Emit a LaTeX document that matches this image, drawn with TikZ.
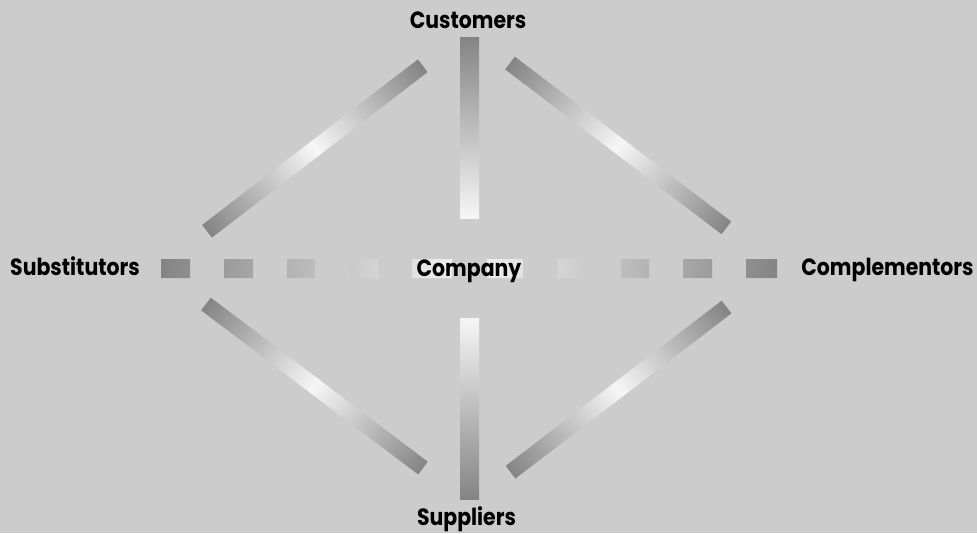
\documentclass[tikz,border=0pt]{standalone}
\usepackage{fontspec}
\setmainfont{Poppins}[UprightFont=* Bold,FakeStretch=0.87]
\begin{document}
\begin{tikzpicture}[x=1pt,y=-1pt,
  lbl/.style={inner sep=0pt,anchor=base,font=\fontsize{23.5}{23.5}\selectfont},
  barshade/.style={left color=bargray,right color=bargray,middle color=barwhite}]
\definecolor{bg}{HTML}{CCCCCC}
\definecolor{bargray}{HTML}{848484}
\definecolor{barwhite}{HTML}{F6F6F6}
\fill[bg] (0,0) rectangle (977,533);
\useasboundingbox (0,0) rectangle (977,533);
% vertical bars
\shade[top color=bargray,bottom color=barwhite] (460,37) rectangle (479,218);
\shade[top color=barwhite,bottom color=bargray] (460,318) rectangle (479,499);
% dashed horizontal bar
\begin{scope}
  \clip (161,259) rectangle (190,278) (224,259) rectangle (253,278)
        (287,259) rectangle (315,278) (349,259) rectangle (378,278)
        (412,259) rectangle (452,278) (487,259) rectangle (523,278)
        (558,259) rectangle (587,278) (621,259) rectangle (649,278)
        (683,259) rectangle (712,278) (746,259) rectangle (777,278);
  \shade[barshade] (161,259) rectangle (777,278);
\end{scope}
% diagonal bars
\begin{scope}[transform canvas={shift={(207,231.3)},rotate=37.5}]
  \shade[barshade] (0,-8) rectangle (272,8);
\end{scope}
\begin{scope}[transform canvas={shift={(510,63)},rotate=-37.3}]
  \shade[barshade] (0,-8) rectangle (272,8);
\end{scope}
\begin{scope}[transform canvas={shift={(206,304)},rotate=-37.1}]
  \shade[barshade] (0,-8) rectangle (272,8);
\end{scope}
\begin{scope}[transform canvas={shift={(510.5,472.2)},rotate=37.4}]
  \shade[barshade] (0,-8) rectangle (272,8);
\end{scope}
% labels
\node[lbl] (cust) at (468,28.3) {Customers};
\node[lbl] (comp) at (469,276.7) {Company};
\node[lbl] (subs) at (75,275.7) {Substitutors};
\node[lbl] (compl) at (887.5,275.3) {Complementors};
\node[lbl] (supp) at (466.5,525) {Suppliers};
\end{tikzpicture}
\end{document}
